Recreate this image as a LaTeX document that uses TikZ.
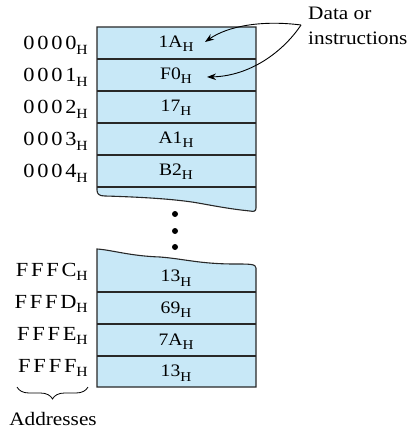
\documentclass[tikz,border=0pt]{standalone}
\usepackage{fontspec}
\setmainfont{Liberation Serif}[FakeStretch=1.12]
\usetikzlibrary{decorations.pathreplacing,arrows.meta}
\definecolor{cellblue}{RGB}{200,232,247}
\definecolor{edge}{RGB}{40,40,40}
\newcommand\hval[1]{{\fontsize{17.5}{17.5}\selectfont #1\raisebox{-4.5pt}{\fontsize{13.5}{13.5}\selectfont H}}}
\newcommand\hadr[1]{{\fontsize{20}{20}\selectfont\addfontfeature{LetterSpace=14}#1}{\raisebox{-4.5pt}{\fontsize{14}{14}\selectfont H}}}
\begin{document}
\begin{tikzpicture}[x=1pt,y=-1pt,
  blk/.style={fill=cellblue,draw=edge,line width=1.1pt},
  sep/.style={draw=edge,line width=1.1pt},
  val/.style={anchor=base,inner sep=0pt},
  adr/.style={anchor=base east,inner sep=0pt},
  lbl/.style={anchor=base west,inner sep=0pt,font=\fontsize{19}{19}\selectfont},
  dot/.style={circle,fill=black,inner sep=0pt,minimum size=6pt},
  arr/.style={-{Stealth[length=9pt,width=6.5pt]},line width=0.9pt}]
\useasboundingbox (0,0) rectangle (413,430);
% top block
\path[blk] (97,27) -- (256,27) -- (256,208) .. controls (256,211) and (254,212) .. (250,211)
  .. controls (230,209) and (215,206) .. (198,203) .. controls (175,199) and (140,197) .. (105,196)
  .. controls (99,196) and (97,194) .. (97,190) -- cycle;
\foreach \yy in {59,91,123,155,187} \draw[sep] (97,\yy) -- (256,\yy);
% bottom block
\path[blk] (97,249) .. controls (112,250) and (130,256) .. (160,257)
  .. controls (185,259) and (200,264) .. (235,264) .. controls (250,264) and (256,264) .. (256,268)
  -- (256,387) -- (97,387) -- cycle;
\foreach \yy in {292,324,356} \draw[sep] (97,\yy) -- (256,\yy);
% dots
\node[dot] (d1) at (175,214) {};
\node[dot] (d2) at (175,231) {};
\node[dot] (d3) at (175,247) {};
% values
\node[val] (v0) at (176,47.5) {\hval{1A}};
\node[val] (v1) at (176,79.5) {\hval{F0}};
\node[val] (v2) at (176,111.5) {\hval{17}};
\node[val] (v3) at (176,143.5) {\hval{A1}};
\node[val] (v4) at (176,175.5) {\hval{B2}};
\node[val] (w0) at (176,281.5) {\hval{13}};
\node[val] (w1) at (176,313) {\hval{69}};
\node[val] (w2) at (176,345) {\hval{7A}};
\node[val] (w3) at (176,376.5) {\hval{13}};
% addresses
\node[adr] (a0) at (88,50) {\hadr{0000}};
\node[adr] (a1) at (88,82) {\hadr{0001}};
\node[adr] (a2) at (88,114) {\hadr{0002}};
\node[adr] (a3) at (88,146) {\hadr{0003}};
\node[adr] (a4) at (88,178) {\hadr{0004}};
\node[adr] (b0) at (88,276) {\hadr{FFFC}};
\node[adr] (b1) at (88,308) {\hadr{FFFD}};
\node[adr] (b2) at (88,340) {\hadr{FFFE}};
\node[adr] (b3) at (88,372) {\hadr{FFFF}};
% labels
\node[lbl] (l1) at (308,20) {Data or};
\node[lbl] (l2) at (308,45) {instructions};
\node[anchor=base,inner sep=0pt,font=\fontsize{19}{19}\selectfont] (addr) at (53,425) {Addresses};
% arrows
\coordinate (src) at (301,25);
\coordinate (t0) at (205,42);
\coordinate (t1) at (207,77);
\draw[arr] (src) .. controls (262,20) and (228,26) .. (t0);
\draw[arr] (src) .. controls (283,52) and (250,76) .. (t1);
% brace
\coordinate (bl) at (17,387);
\coordinate (br) at (88,387);
\draw[decorate,decoration={brace,amplitude=12pt,mirror},line width=0.8pt] (bl) -- (br);
\end{tikzpicture}
\end{document}
